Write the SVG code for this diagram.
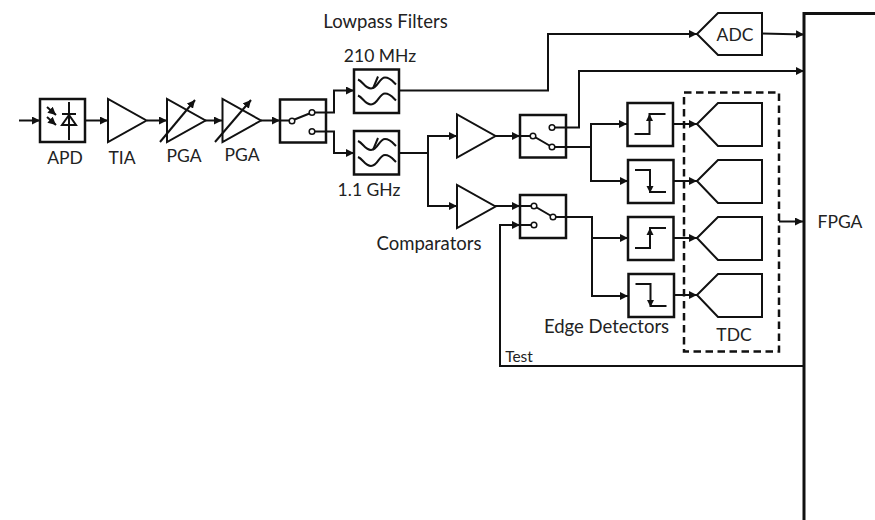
<svg xmlns="http://www.w3.org/2000/svg" width="875" height="520" viewBox="0 0 875 520">
<style>
.b{fill:#fff;stroke:#111;stroke-width:2.5}
.s{fill:none;stroke:#111;stroke-width:2}
.t{fill:#fff;stroke:#111;stroke-width:2}
.w{fill:none;stroke:#111;stroke-width:2}
.c{fill:#fff;stroke:#111;stroke-width:1.5}
text{font-family:"Lato","Open Sans",sans-serif;font-size:18.5px;fill:#222;text-anchor:middle}
.k{font-size:17.500px}
</style>
<defs>
<marker id="a" markerUnits="userSpaceOnUse" markerWidth="9" markerHeight="8" refX="8" refY="4" orient="auto"><path d="M0,0L8,4L0,8z" fill="#111"/></marker>
<marker id="l" markerUnits="userSpaceOnUse" markerWidth="9" markerHeight="9" refX="8" refY="4" orient="auto"><path d="M0,0L8,4L0,8z" fill="#111"/></marker>
<g id="filter">
<rect class="b" x="0" y="0" width="45" height="43.500"/>
<path class="s" d="M4,10C9,12 11,19 17,19C24,19 25,8 31,8C36,8 39,12 42,15"/>
<path class="s" d="M4,26C9,28 11,35 17,35C24,35 25,24 31,24C36,24 39,28 42,31"/>
<path class="s" d="M24,7L19,19"/>
</g>
<g id="up">
<rect class="b" x="0" y="0" width="45.500" height="43"/>
<path class="s" d="M7,31H22V11H38"/>
<path d="M22,11L25.500,18H18.500z" fill="#111"/>
</g>
<g id="down">
<rect class="b" x="0" y="0" width="45.500" height="43"/>
<path class="s" d="M7,10H22V32H38"/>
<path d="M22,33L25.500,26H18.500z" fill="#111"/>
</g>
<path id="tdc" class="t" d="M0,0L21,-21H65V22H21z"/>
<path id="amp" class="t" d="M0,-21.500V21.500L38.500,0z"/>
</defs>

<g id="connectors">
<path class="w" marker-end="url(#a)" d="M19,120.500H40"/>
<path class="w" marker-end="url(#a)" d="M85,120.500H108"/>
<path class="w" marker-end="url(#a)" d="M147,120.500H167"/>
<path class="w" marker-end="url(#a)" d="M205,120.500H222"/>
<path class="w" marker-end="url(#a)" d="M261,120.500H280"/>
<path class="w" marker-end="url(#a)" d="M312,112.500H334V90.500H354"/>
<path class="w" marker-end="url(#a)" d="M312,131.500H334V153H354"/>
<path class="w" marker-end="url(#a)" d="M399,90.500H548V34H697"/>
<path class="w" marker-end="url(#a)" d="M762,33.500L804,34.500"/>
<path class="w" marker-end="url(#a)" d="M552,127.500H579V71H804"/>
<path class="w" marker-end="url(#a)" d="M399,153H428V136H457"/>
<path class="w" marker-end="url(#a)" d="M428,153V206H457"/>
<path class="w" marker-end="url(#a)" d="M495,136H520"/>
<path class="w" marker-end="url(#a)" d="M495,206H520"/>
<path class="w" marker-end="url(#a)" d="M803,366H500V225H520"/>
<path class="w" marker-end="url(#a)" d="M552,147H591V124H627"/>
<path class="w" marker-end="url(#a)" d="M591,147V181H628"/>
<path class="w" marker-end="url(#a)" d="M553,217H592V238H628"/>
<path class="w" marker-end="url(#a)" d="M592,238V296H628"/>
<path class="w" marker-end="url(#a)" d="M673,124H697"/>
<path class="w" marker-end="url(#a)" d="M673,181H697"/>
<path class="w" marker-end="url(#a)" d="M673,238H697"/>
<path class="w" marker-end="url(#a)" d="M674,295H697"/>
<path class="w" marker-end="url(#a)" d="M779,221.500H803"/>
</g>

<g id="fpga"><path d="M875,13.500H804V520" fill="none" stroke="#111" stroke-width="3"/><text class="k" x="840" y="228">FPGA</text></g>
<g id="apd">
<rect class="b" x="40" y="99" width="45" height="43"/>
<path class="s" d="M69,102V140M62,114H76"/>
<path class="s" d="M69,115L62,125H76z"/>
<path class="s" marker-end="url(#l)" d="M47,107L56,115"/>
<path class="s" marker-end="url(#l)" d="M47,117L56,125"/>
<text class="k" x="65" y="164">APD</text>
</g>
<g id="tia"><use href="#amp" x="108" y="120.500"/><text class="k" x="122" y="164">TIA</text></g>
<g id="pga1"><use href="#amp" x="167" y="120.500"/><path class="s" marker-end="url(#a)" d="M160,142L195,100"/><text class="k" x="184" y="162">PGA</text></g>
<g id="pga2"><use href="#amp" x="222.500" y="120.500"/><path class="s" marker-end="url(#a)" d="M215,142L251,100"/><text class="k" x="242" y="161">PGA</text></g>
<g id="switch1">
<rect class="b" x="280" y="99.500" width="46" height="43"/>
<path class="w" d="M280,120.500H292M292,120.500L312,112.500M312,112.500H326M312,131.500H326"/>
<circle class="c" cx="292" cy="121" r="2.800"/><circle class="c" cx="312" cy="112.500" r="2.800"/><circle class="c" cx="312" cy="131.500" r="2.800"/>
</g>
<g id="filter210"><use href="#filter" x="354" y="69.500"/><text class="k" x="380" y="62">210 MHz</text></g>
<g id="filter11"><use href="#filter" x="354" y="131"/><text class="k" x="369" y="196">1.1 GHz</text></g>
<text x="385.500" y="28">Lowpass Filters</text>
<g id="adc"><path class="t" d="M697,34L718,13H762V55H718z"/><text class="k" x="735" y="41">ADC</text></g>
<g id="comp1"><use href="#amp" x="457" y="136"/></g>
<g id="comp2"><use href="#amp" x="457" y="206.500"/></g>
<text x="429" y="250">Comparators</text>
<g id="switch2">
<rect class="b" x="520" y="115" width="46" height="42.500"/>
<path class="w" d="M520,136H533L552,147M552,127.500H566M552,147H566"/>
<circle class="c" cx="533" cy="136" r="2.800"/><circle class="c" cx="552" cy="127.500" r="2.800"/><circle class="c" cx="552" cy="147" r="2.800"/>
</g>
<g id="switch3">
<rect class="b" x="520" y="195" width="46" height="43"/>
<path class="w" d="M520,206H534L553,217M553,217H566M520,225H534"/>
<circle class="c" cx="534" cy="206" r="2.800"/><circle class="c" cx="553" cy="217" r="2.800"/><circle class="c" cx="534" cy="225" r="2.800"/>
</g>
<g id="edge1"><use href="#up" x="627.500" y="103"/></g>
<g id="edge2"><use href="#down" x="628" y="160"/></g>
<g id="edge3"><use href="#up" x="628" y="217"/></g>
<g id="edge4"><use href="#down" x="628.500" y="274"/></g>
<text x="606.500" y="333">Edge Detectors</text>
<g id="tdc-block">
<use href="#tdc" x="697" y="124"/><use href="#tdc" x="697" y="181"/><use href="#tdc" x="697" y="238"/><use href="#tdc" x="697" y="295"/>
<rect x="684" y="92.500" width="95" height="259" fill="none" stroke="#111" stroke-width="2.500" stroke-dasharray="7.500 4.500"/>
<text class="k" x="734" y="341">TDC</text>
</g>
<text x="519" y="362" style="font-size:15.500px">Test</text>
</svg>
